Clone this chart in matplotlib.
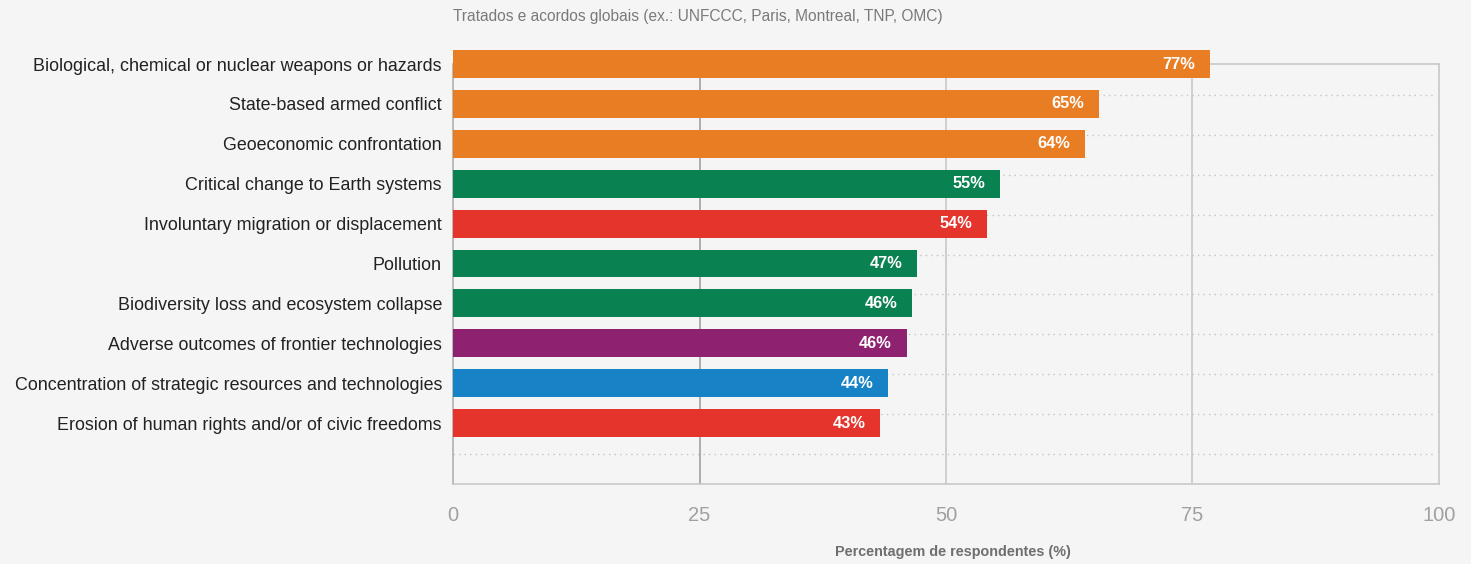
import matplotlib
matplotlib.use("Agg")
import matplotlib.pyplot as plt

categories = [
    "Biological, chemical or nuclear weapons or hazards",
    "State-based armed conflict",
    "Geoeconomic confrontation",
    "Critical change to Earth systems",
    "Involuntary migration or displacement",
    "Pollution",
    "Biodiversity loss and ecosystem collapse",
    "Adverse outcomes of frontier technologies",
    "Concentration of strategic resources and technologies",
    "Erosion of human rights and/or of civic freedoms",
]
values = [76.8, 65.5, 64.1, 55.5, 54.2, 47.1, 46.6, 46.0, 44.1, 43.3]
value_labels = ["77%", "65%", "64%", "55%", "54%", "47%", "46%", "46%", "44%", "43%"]
groups = ["geo", "geo", "geo", "env", "soc", "env", "env", "tech", "eco", "soc"]
group_colors = {"geo": "#E97D23", "env": "#0A8150", "soc": "#E4342B",
                "tech": "#8E2170", "eco": "#1783C6"}
xticks = [0, 25, 50, 75, 100]
title = "Tratados e acordos globais (ex.: UNFCCC, Paris, Montreal, TNP, OMC)"
xlabel = "Percentagem de respondentes (%)"

plt.rcParams['font.family'] = ['Liberation Sans', 'DejaVu Sans']
bg = "#F5F5F5"
fig = plt.figure(figsize=(14.71, 5.64), dpi=100, facecolor=bg)
ax = fig.add_axes([453/1471, 1-484/564, (1439-453)/1471, (484-64)/564])
ax.set_facecolor(bg)

n = len(categories)
ypos = list(range(n))
ax.set_xlim(0, 100)
ax.set_ylim(n + 0.525, 0.025)

# dotted horizontal grid (offset from bars)
for i in range(n):
    ax.plot([0, 99.5], [i + 0.775, i + 0.775], color="#c4c4c4", lw=1.0,
            linestyle=(0, (1, 3)), zorder=1)
# vertical lines
for t in xticks[1:-1]:
    ax.axvline(t, color="#a0a0a0" if t == 25 else "#c8c8c8", lw=1.2, zorder=1)

colors = [group_colors[g] for g in groups]
bars = ax.barh(ypos, values, height=0.7, color=colors, zorder=3, clip_on=False)
for y, v, lab in zip(ypos, values, value_labels):
    ax.text(v - 1.5, y, lab, ha="right", va="center", color="white",
            fontsize=11.8, fontweight="bold", zorder=4)

for s in ["top", "right", "bottom"]:
    ax.spines[s].set_color("#c8c8c8")
    ax.spines[s].set_linewidth(1.2)
ax.spines["left"].set_color("#b0b0b0")
ax.spines["left"].set_linewidth(1.2)

ax.set_yticks(ypos)
ax.set_yticklabels(categories, fontsize=12.9, color="#222222")
ax.tick_params(axis="y", length=0, pad=8)
ax.set_xticks(xticks)
ax.set_xticklabels([str(t) for t in xticks], fontsize=14.5, color="#a0a0a0")
ax.tick_params(axis="x", length=0, pad=16)

fig.text(453/1471, 1-17/564, title, ha="left", va="center", fontsize=11.2, color="#7a7a7a")
fig.text(953/1471, 1-552/564, xlabel, ha="center", va="center", fontsize=10.4,
         fontweight="bold", color="#6f6f6f")

fig.savefig("out.png", dpi=100, facecolor=bg)
